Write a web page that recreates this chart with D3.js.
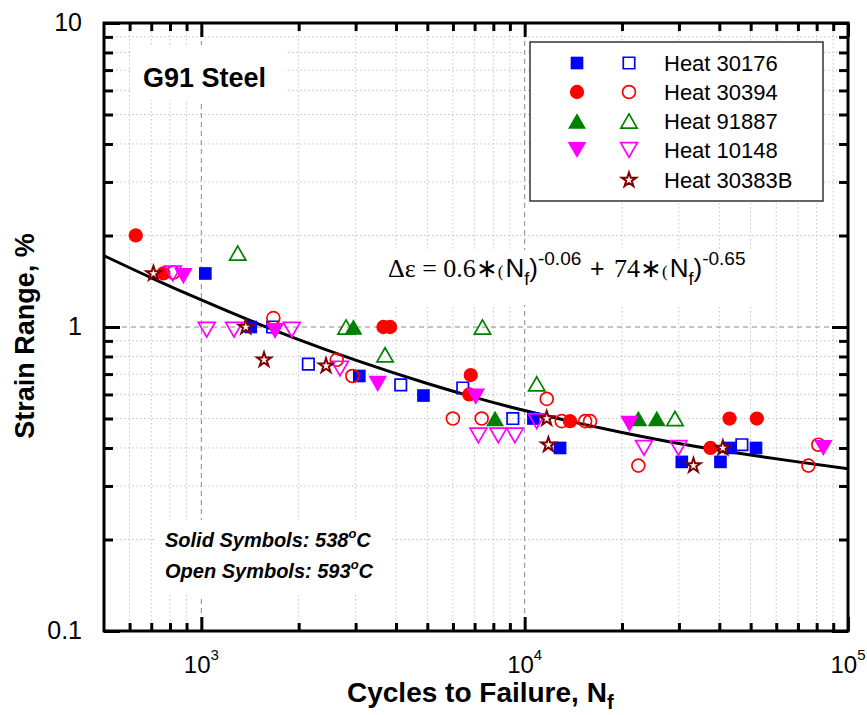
<!DOCTYPE html>
<html>
<head>
<meta charset="utf-8">
<script src="https://cdn.jsdelivr.net/npm/d3@7"></script>
<style>
  body { margin: 0; background: #fff; }
  text { font-family: "Liberation Sans", Arial, sans-serif; fill: #000; }
</style>
</head>
<body>
<div id="chart"></div>
<script>
"use strict";

const width = 867;
const height = 715;
const plotLeft = 104;
const plotRight = 848;
const plotTop = 23;
const plotBottom = 631;

// axis ticks
const xMajorTicks = [1000, 10000, 100000];
const xTickExponents = ["3", "4", "5"];
const xMinorTicks = [600, 700, 800, 900, 2000, 3000, 4000, 5000, 6000, 7000, 8000, 9000,
  20000, 30000, 40000, 50000, 60000, 70000, 80000, 90000];
const yMajorTicks = [0.1, 1, 10];
const yTickLabels = ["0.1", "1", "10"];
const yMinorTicks = [0.2, 0.3, 0.4, 0.5, 0.6, 0.7, 0.8, 0.9, 2, 3, 4, 5, 6, 7, 8, 9];

// Heat 30176 (blue squares)
const heat30176SolidN = [1029, 1422, 3081, 4864, 10640, 12870, 30620, 40320, 43200, 51940];
const heat30176SolidS = [1.5, 1.0, 0.69, 0.595, 0.5, 0.4, 0.36, 0.36, 0.4, 0.4];
const heat30176OpenN = [1662, 2143, 4137, 6435, 9190, 46970];
const heat30176OpenS = [1.0, 0.755, 0.645, 0.63, 0.5, 0.41];

// Heat 30394 (red circles)
const heat30394SolidN = [627, 763, 3658, 3836, 6811, 6740, 13810, 37540, 43010, 52240];
const heat30394SolidS = [2.0, 1.5, 1.0, 1.0, 0.695, 0.6, 0.49, 0.4, 0.5, 0.5];
const heat30394OpenN = [819, 1670, 2623, 2932, 5998, 7362, 11700, 13020, 15380, 15930, 22470, 75430, 80970];
const heat30394OpenS = [1.51, 1.07, 0.78, 0.69, 0.5, 0.5, 0.58, 0.49, 0.49, 0.49, 0.35, 0.35, 0.41];

// Heat 91887 (green triangles)
const heat91887SolidN = [2954, 8100, 22470, 25620];
const heat91887SolidS = [1.0, 0.5, 0.5, 0.5];
const heat91887OpenN = [1296, 2803, 3700, 7405, 10900, 29170];
const heat91887OpenS = [1.75, 1.0, 0.81, 1.0, 0.65, 0.5];

// Heat 10148 (magenta down triangles)
const heat10148SolidN = [880, 1690, 3512, 7060, 21090, 83900];
const heat10148SolidS = [1.47, 0.97, 0.65, 0.59, 0.48, 0.4];
const heat10148OpenN = [816, 1039, 1262, 1904, 2685, 7194, 8290, 9330, 10900, 23390, 29890];
const heat10148OpenS = [1.5, 0.98, 0.98, 0.98, 0.73, 0.44, 0.44, 0.44, 0.49, 0.4, 0.4];

// Heat 30383B (stars, open only)
const heat30383BN = [711, 1372, 1563, 2430, 11700, 11840, 33270, 41010];
const heat30383BS = [1.5, 1.0, 0.78, 0.745, 0.5, 0.41, 0.35, 0.4];

// fitted curve
const curveN = [500, 700, 1000, 1500, 2000, 3000, 5000, 7000, 10000, 15000, 20000, 30000, 50000, 70000, 100000];
const curveS = [1.716, 1.452, 1.227, 1.024, 0.909, 0.778, 0.652, 0.587, 0.531, 0.48, 0.45, 0.414, 0.379, 0.36, 0.342];

const zip = (ns, ss) => ns.map((n, i) => ({ n: n, s: ss[i] }));

const series = [
  { name: "Heat 30176", color: "#0000ff", shape: "square", solid: zip(heat30176SolidN, heat30176SolidS), open: zip(heat30176OpenN, heat30176OpenS) },
  { name: "Heat 30394", color: "#ff0000", shape: "circle", solid: zip(heat30394SolidN, heat30394SolidS), open: zip(heat30394OpenN, heat30394OpenS) },
  { name: "Heat 91887", color: "#008000", shape: "up", solid: zip(heat91887SolidN, heat91887SolidS), open: zip(heat91887OpenN, heat91887OpenS) },
  { name: "Heat 10148", color: "#ff00ff", shape: "down", solid: zip(heat10148SolidN, heat10148SolidS), open: zip(heat10148OpenN, heat10148OpenS) },
  { name: "Heat 30383B", color: "#800000", shape: "star", solid: [], open: zip(heat30383BN, heat30383BS) },
];

// triangles centred on their bounding box
const triangleUp = {
  draw(context, size) {
    const a = Math.sqrt((4 * size) / Math.sqrt(3));
    const h = (a * Math.sqrt(3)) / 2;
    context.moveTo(0, -h / 2);
    context.lineTo(a / 2, h / 2);
    context.lineTo(-a / 2, h / 2);
    context.closePath();
  },
};
const triangleDown = {
  draw(context, size) {
    const a = Math.sqrt((4 * size) / Math.sqrt(3));
    const h = (a * Math.sqrt(3)) / 2;
    context.moveTo(0, h / 2);
    context.lineTo(a / 2, -h / 2);
    context.lineTo(-a / 2, -h / 2);
    context.closePath();
  },
};

const shapes = {
  square: { type: d3.symbolSquare, size: 160 },
  circle: { type: d3.symbolCircle, size: 160 },
  up: { type: triangleUp, size: 140 },
  down: { type: triangleDown, size: 150 },
  star: { type: d3.symbolStar, size: 78 },
};

const symbolPath = (shape, open) => {
  const s = shapes[shape];
  return d3.symbol().type(s.type).size(open ? s.size * 0.82 : s.size)();
};

const xScale = d3.scaleLog().domain([500, 100000]).range([plotLeft, plotRight]);
const yScale = d3.scaleLog().domain([0.1, 10]).range([plotBottom, plotTop]);

const svg = d3
  .select("#chart")
  .append("svg")
  .attr("width", width)
  .attr("height", height);

// grid
const grid = svg.append("g");
grid
  .selectAll("line.xminor")
  .data(xMinorTicks)
  .enter()
  .append("line")
  .attr("x1", (d) => xScale(d))
  .attr("x2", (d) => xScale(d))
  .attr("y1", plotTop)
  .attr("y2", plotBottom)
  .attr("stroke", "#c4c4c4")
  .attr("stroke-dasharray", "1.5,2.5");
grid
  .selectAll("line.yminor")
  .data(yMinorTicks)
  .enter()
  .append("line")
  .attr("x1", plotLeft)
  .attr("x2", plotRight)
  .attr("y1", (d) => yScale(d))
  .attr("y2", (d) => yScale(d))
  .attr("stroke", "#c4c4c4")
  .attr("stroke-dasharray", "1.5,2.5");
grid
  .selectAll("line.xmajor")
  .data([1000, 10000])
  .enter()
  .append("line")
  .attr("x1", (d) => xScale(d))
  .attr("x2", (d) => xScale(d))
  .attr("y1", plotTop)
  .attr("y2", plotBottom)
  .attr("stroke", "#8a8a8a")
  .attr("stroke-dasharray", "5,4");
grid
  .append("line")
  .attr("x1", plotLeft)
  .attr("x2", plotRight)
  .attr("y1", yScale(1))
  .attr("y2", yScale(1))
  .attr("stroke", "#8a8a8a")
  .attr("stroke-dasharray", "5,4");

// white boxes behind annotations
const boxes = [
  [132, 45, 153, 55],
  [380, 250, 380, 55],
  [155, 520, 235, 75],
];
svg
  .selectAll("rect.bg")
  .data(boxes)
  .enter()
  .append("rect")
  .attr("x", (d) => d[0])
  .attr("y", (d) => d[1])
  .attr("width", (d) => d[2])
  .attr("height", (d) => d[3])
  .attr("fill", "#fff");

// fitted curve
const line = d3
  .line()
  .x((d) => xScale(d.n))
  .y((d) => yScale(d.s))
  .curve(d3.curveMonotoneX);

svg
  .append("path")
  .datum(zip(curveN, curveS))
  .attr("d", line)
  .attr("fill", "none")
  .attr("stroke", "#000")
  .attr("stroke-width", 3);

// data points
series.forEach((sr) => {
  svg
    .append("g")
    .selectAll("path")
    .data(sr.solid)
    .enter()
    .append("path")
    .attr("transform", (d) => `translate(${xScale(d.n)},${yScale(d.s)})`)
    .attr("d", symbolPath(sr.shape, false))
    .attr("fill", sr.color);
  svg
    .append("g")
    .selectAll("path")
    .data(sr.open)
    .enter()
    .append("path")
    .attr("transform", (d) => `translate(${xScale(d.n)},${yScale(d.s)})`)
    .attr("d", symbolPath(sr.shape, true))
    .attr("fill", sr.shape === "star" ? "#fff" : "none")
    .attr("stroke", sr.color)
    .attr("stroke-width", sr.shape === "star" ? 2 : 1.7);
});

// axes (ticks point inward on all four sides)
const axisStyle = (g) => {
  g.select(".domain").remove();
  g.selectAll(".tick line").attr("stroke", "#000").attr("stroke-width", 3);
  g.selectAll(".tick text").remove();
};
const addAxis = (axis, transform) =>
  svg.append("g").attr("transform", transform).call(axis).call(axisStyle);

addAxis(d3.axisBottom(xScale).tickValues(xMajorTicks).tickSize(-14).tickSizeOuter(0), `translate(0,${plotBottom})`);
addAxis(d3.axisBottom(xScale).tickValues(xMinorTicks).tickSize(-8).tickSizeOuter(0), `translate(0,${plotBottom})`);
addAxis(d3.axisTop(xScale).tickValues(xMajorTicks).tickSize(-14).tickSizeOuter(0), `translate(0,${plotTop})`);
addAxis(d3.axisTop(xScale).tickValues(xMinorTicks).tickSize(-8).tickSizeOuter(0), `translate(0,${plotTop})`);
addAxis(d3.axisLeft(yScale).tickValues(yMajorTicks).tickSize(-16).tickSizeOuter(0), `translate(${plotLeft},0)`);
addAxis(d3.axisLeft(yScale).tickValues(yMinorTicks).tickSize(-9).tickSizeOuter(0), `translate(${plotLeft},0)`);
addAxis(d3.axisRight(yScale).tickValues(yMajorTicks).tickSize(-16).tickSizeOuter(0), `translate(${plotRight},0)`);
addAxis(d3.axisRight(yScale).tickValues(yMinorTicks).tickSize(-9).tickSizeOuter(0), `translate(${plotRight},0)`);

svg
  .append("rect")
  .attr("x", plotLeft)
  .attr("y", plotTop)
  .attr("width", plotRight - plotLeft)
  .attr("height", plotBottom - plotTop)
  .attr("fill", "none")
  .attr("stroke", "#000")
  .attr("stroke-width", 3);

// tick labels
svg
  .selectAll("text.ylab")
  .data(yMajorTicks)
  .enter()
  .append("text")
  .attr("x", 82)
  .attr("y", (d) => yScale(d) + 8)
  .attr("text-anchor", "end")
  .style("font-size", "25px")
  .text((d, i) => yTickLabels[i]);

const xLabels = svg
  .selectAll("text.xlab")
  .data(xMajorTicks)
  .enter()
  .append("text")
  .attr("x", (d) => xScale(d))
  .attr("y", 673)
  .attr("text-anchor", "middle")
  .style("font-size", "24px");
xLabels.append("tspan").text("10");
xLabels
  .append("tspan")
  .attr("dy", -13)
  .style("font-size", "15px")
  .text((d, i) => xTickExponents[i]);

// axis titles
const xTitle = svg
  .append("text")
  .attr("x", 347)
  .attr("y", 702)
  .style("font-size", "28px")
  .style("font-weight", "bold");
xTitle.append("tspan").text("Cycles to Failure, N");
xTitle.append("tspan").attr("dy", 7).style("font-size", "20px").text("f");

svg
  .append("text")
  .attr("transform", "translate(34, 336) rotate(-90)")
  .attr("text-anchor", "middle")
  .style("font-size", "27px")
  .style("font-weight", "bold")
  .text("Strain Range, %");

// title
svg
  .append("text")
  .attr("x", 143)
  .attr("y", 87)
  .style("font-size", "27px")
  .style("font-weight", "bold")
  .text("G91 Steel");

// equation
const eq = svg.append("text").attr("y", 277);
const serif = '"Liberation Serif", "Times New Roman", serif';
eq.append("tspan").attr("x", 388).style("font-family", serif).style("font-size", "26px").text("Δε = 0.6∗");
eq.append("tspan").style("font-family", serif).style("font-size", "17px").text("(");
eq.append("tspan").attr("dx", 2).style("font-size", "26px").text("N");
eq.append("tspan").attr("dy", 8).style("font-size", "18px").text("f");
eq.append("tspan").attr("dy", -8).style("font-size", "26px").text(")");
eq.append("tspan").attr("dy", -12).style("font-size", "19px").text("-0.06");
eq.append("tspan").attr("x", 590).attr("dy", 12).style("font-size", "25px").text("+");
eq.append("tspan").attr("x", 614).style("font-family", serif).style("font-size", "26px").text("74∗");
eq.append("tspan").style("font-family", serif).style("font-size", "17px").text("(");
eq.append("tspan").attr("dx", 2).style("font-size", "26px").text("N");
eq.append("tspan").attr("dy", 8).style("font-size", "18px").text("f");
eq.append("tspan").attr("dy", -8).style("font-size", "26px").text(")");
eq.append("tspan").attr("dy", -12).style("font-size", "19px").text("-0.65");

// temperature notes
const notes = [
  ["Solid Symbols: 538", 547],
  ["Open Symbols: 593", 578],
];
notes.forEach(([label, y]) => {
  const t = svg
    .append("text")
    .attr("x", 165)
    .attr("y", y)
    .style("font-size", "20px")
    .style("font-weight", "bold")
    .style("font-style", "italic");
  t.append("tspan").text(label);
  t.append("tspan").attr("dy", -9).style("font-size", "13px").text("o");
  t.append("tspan").attr("dy", 9).text("C");
});

// legend
const legendRows = [63, 92, 121, 150, 180];
const legend = svg.append("g");
legend
  .append("rect")
  .attr("x", 530)
  .attr("y", 42)
  .attr("width", 293)
  .attr("height", 159)
  .attr("fill", "#fff")
  .attr("stroke", "#333")
  .attr("stroke-width", 1.5);

series.forEach((sr, i) => {
  const y = legendRows[i];
  if (sr.solid.length) {
    legend
      .append("path")
      .attr("transform", `translate(577,${y})`)
      .attr("d", symbolPath(sr.shape, false))
      .attr("fill", sr.color);
  }
  legend
    .append("path")
    .attr("transform", `translate(629,${y})`)
    .attr("d", symbolPath(sr.shape, true))
    .attr("fill", sr.shape === "star" ? "#fff" : "none")
    .attr("stroke", sr.color)
    .attr("stroke-width", sr.shape === "star" ? 2 : 1.7);
  legend
    .append("text")
    .attr("x", 664)
    .attr("y", y + 8)
    .style("font-size", "22px")
    .text(sr.name);
});
</script>
</body>
</html>
